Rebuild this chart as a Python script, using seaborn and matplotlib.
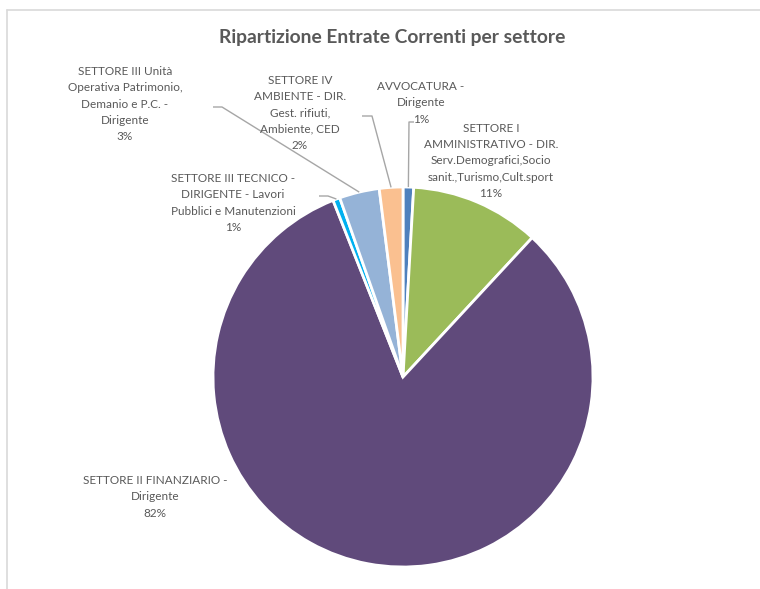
import numpy as np
import matplotlib
matplotlib.use("Agg")
import matplotlib.pyplot as plt
from matplotlib.lines import Line2D
import seaborn as sns

# Share of current revenue by department (percent)
sectors = [
    "AVVOCATURA -\nDirigente",
    "SETTORE I\nAMMINISTRATIVO - DIR.\nServ.Demografici,Socio\nsanit.,Turismo,Cult.sport",
    "SETTORE II FINANZIARIO -\nDirigente",
    "SETTORE III TECNICO -\nDIRIGENTE - Lavori\nPubblici e Manutenzioni",
    "SETTORE III Unità\nOperativa Patrimonio,\nDemanio e P.C. -\nDirigente",
    "SETTORE IV\nAMBIENTE - DIR.\nGest. rifiuti,\nAmbiente, CED",
]
shares = [0.9, 11.0, 82.1, 0.6, 3.4, 2.0]
slice_colors = ["#4F81BD", "#9BBB59", "#604A7B", "#00B0F0", "#95B3D7", "#FAC090"]

sns.set_theme(style="white")
plt.rcParams["font.family"] = ["Lato", "DejaVu Sans"]

W, H = 760, 589
fig = plt.figure(figsize=(W / 100, H / 100), dpi=100)
ax = fig.add_axes([0, 0, 1, 1])

text_col = "#595959"
line_col = "#A6A6A6"

def py(y):
    """Convert a top-down pixel row into the axes' bottom-up coordinate."""
    return H - y

cx, cy, r = 403, py(377), 190
palette = sns.color_palette(slice_colors)
wedges, _ = ax.pie(
    shares, colors=palette, startangle=90, counterclock=False,
    center=(cx, cy), radius=r,
    wedgeprops=dict(edgecolor="white", linewidth=2.0),
)
ax.set_xlim(0, W)
ax.set_ylim(0, H)
ax.set_aspect("equal")
ax.axis("off")

total = sum(shares)
pcts = [f"{100 * v / total:.0f}%" for v in shares]

# label centre positions (pixels, top-down) and leader-line elbows
label_pos = [(421, 103), (491, 161), (155, 497), (233, 203), (125, 104), (300, 113)]
elbows = [
    [(409, 122), (414, 122)],
    None,
    None,
    [(328, 196), (319, 196)],
    [(222, 107), (213, 107)],
    [(372, 116), (362, 116)],
]

for w, name, pct, (lx, ly), elb in zip(wedges, sectors, pcts, label_pos, elbows):
    ax.text(lx, py(ly), f"{name}\n{pct}", ha="center", va="center",
            fontsize=8.5, color=text_col, linespacing=1.57)
    if elb is not None:
        mid = np.deg2rad((w.theta1 + w.theta2) / 2)
        x0 = cx + r * np.cos(mid)
        y0 = cy + r * np.sin(mid)
        xs = [x0] + [p[0] for p in elb]
        ys = [y0] + [py(p[1]) for p in elb]
        ax.plot(xs, ys, color=line_col, linewidth=1.0, solid_capstyle="butt")

ax.text(392, py(37), "Ripartizione Entrate Correnti per settore", ha="center",
        va="center", fontsize=13.9, fontweight="bold", color=text_col)

# chart-area frame (top and left edges)
fig.add_artist(Line2D([7 / W, 1], [1 - 10 / H, 1 - 10 / H], color="#D9D9D9", linewidth=1.2))
fig.add_artist(Line2D([7 / W, 7 / W], [0, 1 - 10 / H], color="#D9D9D9", linewidth=1.2))

fig.savefig("out.png", dpi=100, facecolor="white")
